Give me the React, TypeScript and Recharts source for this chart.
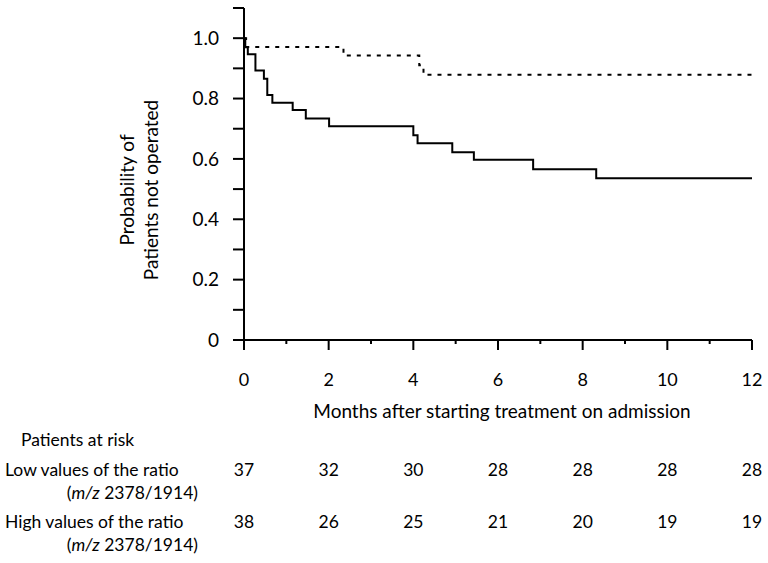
import { LineChart, Line, XAxis, YAxis } from 'recharts';

// Kaplan-Meier curves (months, probability not operated)
const highMonths = [0, 0.03, 0.09, 0.27, 0.47, 0.55, 0.67, 1.15, 1.46, 2.01, 4.0, 4.1, 4.92, 5.43, 6.83, 8.32, 12];
const highSurvival = [1.0, 0.97, 0.947, 0.893, 0.866, 0.812, 0.786, 0.762, 0.734, 0.708, 0.678, 0.652, 0.622, 0.597, 0.566, 0.536, 0.536];
const lowMonths = [0, 0.05, 2.35, 4.14, 4.24, 12];
const lowSurvival = [1.0, 0.971, 0.943, 0.91, 0.879, 0.879];

const monthTicks = [0, 1, 2, 3, 4, 5, 6, 7, 8, 9, 10, 11, 12];
const probTicks = [0, 0.1, 0.2, 0.3, 0.4, 0.5, 0.6, 0.7, 0.8, 0.9, 1.0, 1.1];

// patients at risk table
const riskMonths = [0, 2, 4, 6, 8, 10, 12];
const riskLow = [37, 32, 30, 28, 28, 28, 28];
const riskHigh = [38, 26, 25, 21, 20, 19, 19];

const W = 768;
const H = 563;
const FONT = 'Lato, "Open Sans", sans-serif';

const highData = highMonths.map((t, i) => ({ t, p: highSurvival[i] }));
const lowData = lowMonths.map((t, i) => ({ t, p: lowSurvival[i] }));

function MonthTick(props: any) {
  const { x, y, payload } = props;
  const v = payload.value;
  const major = v % 2 === 0;
  const idx = riskMonths.indexOf(v);
  return (
    <g fontFamily={FONT} fill="#000" textAnchor="middle">
      <line x1={x} x2={x} y1={y} y2={y + (major ? 10 : 4)} stroke="#000" strokeWidth={2} />
      {major && (
        <text x={x} y={y + 46} fontSize={18}>
          {v}
        </text>
      )}
      {idx >= 0 && (
        <text x={x} y={476} fontSize={17.5}>
          {riskLow[idx]}
        </text>
      )}
      {idx >= 0 && (
        <text x={x} y={528} fontSize={17.5}>
          {riskHigh[idx]}
        </text>
      )}
    </g>
  );
}

function ProbTick(props: any) {
  const { x, y, payload } = props;
  const v = payload.value;
  const labeled = Math.round(v * 10) % 2 === 0 && v < 1.05;
  return (
    <g>
      <line x1={x - 11} x2={x} y1={y} y2={y} stroke="#000" strokeWidth={2} />
      {labeled && (
        <text x={x - 25} y={y} dy="0.36em" textAnchor="end" fontFamily={FONT} fontSize={19} fill="#000">
          {v === 0 ? '0' : v.toFixed(1)}
        </text>
      )}
    </g>
  );
}

export default function App() {
  return (
    <div style={{ position: 'absolute', left: 0, top: 0, width: W, height: H, background: '#fff' }}>
      <LineChart width={W} height={H} margin={{ top: 8, right: 16, bottom: 193, left: 184 }}>
        <XAxis
          type="number"
          dataKey="t"
          domain={[0, 12]}
          ticks={monthTicks}
          interval={0}
          tickSize={0}
          tickMargin={0}
          tickLine={false}
          axisLine={{ stroke: '#000', strokeWidth: 2 }}
          tick={<MonthTick />}
          height={30}
        />
        <YAxis
          type="number"
          domain={[0, 1.1]}
          ticks={probTicks}
          interval={0}
          tickSize={0}
          tickMargin={0}
          tickLine={false}
          axisLine={{ stroke: '#000', strokeWidth: 2 }}
          tick={<ProbTick />}
          width={60}
        />
        <Line
          data={lowData}
          dataKey="p"
          type="stepAfter"
          stroke="#000"
          strokeWidth={2}
          strokeDasharray="4 6"
          dot={false}
          isAnimationActive={false}
        />
        <Line
          data={highData}
          dataKey="p"
          type="stepAfter"
          stroke="#000"
          strokeWidth={2}
          dot={false}
          isAnimationActive={false}
        />
      </LineChart>
      <svg
        width={W}
        height={H}
        style={{ position: 'absolute', left: 0, top: 0, pointerEvents: 'none' }}
        fontFamily={FONT}
        fill="#000"
      >
        <text transform="translate(134,190) rotate(-90)" textAnchor="middle" fontSize={19}>
          Probability of
        </text>
        <text transform="translate(158,190) rotate(-90)" textAnchor="middle" fontSize={19}>
          Patients not operated
        </text>
        <text x={502} y={418} textAnchor="middle" fontSize={19}>
          Months after starting treatment on admission
        </text>
        <g fontSize={17.5}>
          <text x={21} y={446}>Patients at risk</text>
          <text x={5} y={476}>Low values of the ratio</text>
          <text x={198} y={499} textAnchor="end">
            (<tspan fontStyle="italic">m/z</tspan> 2378/1914)
          </text>
          <text x={5} y={528}>High values of the ratio</text>
          <text x={198} y={551} textAnchor="end">
            (<tspan fontStyle="italic">m/z</tspan> 2378/1914)
          </text>
        </g>
      </svg>
    </div>
  );
}
